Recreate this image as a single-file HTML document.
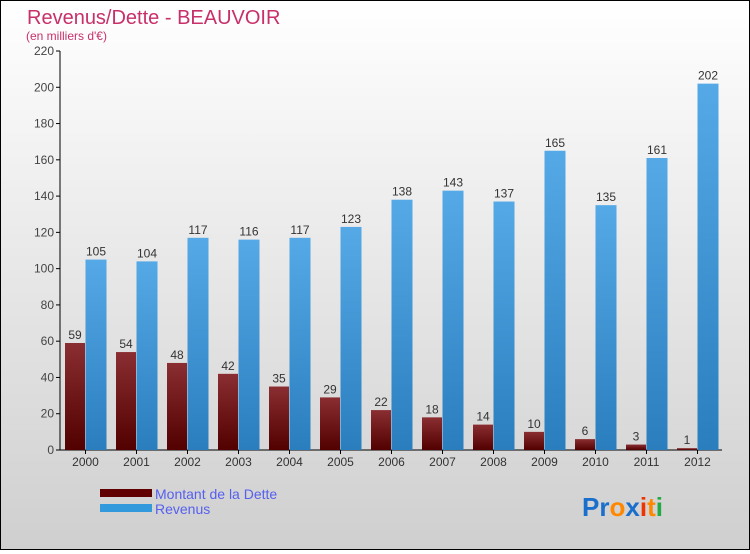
<!DOCTYPE html>
<html><head><meta charset="utf-8"><style>
body{margin:0;width:750px;height:550px;overflow:hidden;font-family:"Liberation Sans",sans-serif}
#wrap{position:relative;width:748px;height:548px;border:1px solid #000;background:linear-gradient(#ffffff,#cfcfcf)}
</style></head><body>
<div id="wrap">
<svg width="748" height="548" viewBox="1 1 748 548">
<defs>
<linearGradient id="gD" x1="0" y1="0" x2="0" y2="1"><stop offset="0" stop-color="#8a2e32"/><stop offset="1" stop-color="#520000"/></linearGradient>
<linearGradient id="gR" x1="0" y1="0" x2="0" y2="1"><stop offset="0" stop-color="#55a9e6"/><stop offset="1" stop-color="#2a7ebe"/></linearGradient>
</defs>
<text x="27" y="24" font-size="20" fill="#c8306a">Revenus/Dette - BEAUVOIR</text>
<text x="26" y="40" font-size="12" fill="#c8306a">(en milliers d'€)</text>
<g id="axes"></g>
<g id="bars"></g>
<g>
<rect x="100" y="489" width="52" height="8" fill="#600000"/>
<text x="155" y="499" font-size="14" fill="#5560ee">Montant de la Dette</text>
<rect x="100" y="504" width="52" height="8" fill="#3399dd"/>
<text x="155" y="514" font-size="14" fill="#5560ee">Revenus</text>
</g>
<g font-size="26" font-weight="bold">
<text x="582" y="516"><tspan fill="#1a6fcc">Pr</tspan><tspan fill="#ff8800">o</tspan><tspan fill="#1a6fcc">x</tspan><tspan fill="#ee3300">i</tspan><tspan fill="#ff8800">t</tspan><tspan fill="#22aa44">i</tspan></text>
</g>
</svg>
</div>
<script>
const years=["2000","2001","2002","2003","2004","2005","2006","2007","2008","2009","2010","2011","2012"];
const dette=[59,54,48,42,35,29,22,18,14,10,6,3,1];
const revenus=[105,104,117,116,117,123,138,143,137,165,135,161,202];
const yTicks=[0,20,40,60,80,100,120,140,160,180,200,220];
const NS="http://www.w3.org/2000/svg";
const y0=450,yTop=51,yMax=220;
function y(v){return y0-(v/yMax)*(y0-yTop);}
function xc(i){return 85.5+i*51;}
function mk(tag,attrs,parent){const e=document.createElementNS(NS,tag);for(const k in attrs)e.setAttribute(k,attrs[k]);parent.appendChild(e);return e;}
const ax=document.getElementById('axes'),bars=document.getElementById('bars');
let l=mk('line',{x1:60,y1:y0,x2:722,y2:y0,stroke:'#000'},ax);


l=mk('line',{x1:60,y1:yTop,x2:60,y2:y0,stroke:'#000'},ax);


yTicks.forEach(v=>{
 const t=mk('line',{x1:56,y1:y(v),x2:60,y2:y(v),stroke:'#000'},ax);
 
 
 const tx=mk('text',{x:54,y:y(v)+4,'font-size':12,fill:'#444','text-anchor':'end'},ax);
 tx.textContent=v;
 
 
});
years.forEach((yr,i)=>{
 const c=xc(i);
 const tk=mk('line',{x1:c,y1:y0,x2:c,y2:y0+4,stroke:'#000'},ax);
 
 
 const tx=mk('text',{x:c,y:y0+16,'font-size':12,fill:'#333','text-anchor':'middle'},ax);
 tx.textContent=yr;
 
 
 const d=mk('rect',{x:c-20.5,y:y(dette[i]),width:20,height:y0-y(dette[i]),fill:'url(#gD)'},bars);
 
 
 const r=mk('rect',{x:c,y:y(revenus[i]),width:21,height:y0-y(revenus[i]),fill:'url(#gR)'},bars);
 
 
 const dl=mk('text',{x:c-10.5,y:y(dette[i])-4,'font-size':12,fill:'#333','text-anchor':'middle'},bars);
 dl.textContent=dette[i];
 
 
 const rl=mk('text',{x:c+10.5,y:y(revenus[i])-4,'font-size':12,fill:'#333','text-anchor':'middle'},bars);
 rl.textContent=revenus[i];
 
 
});
</script>
</body></html>
